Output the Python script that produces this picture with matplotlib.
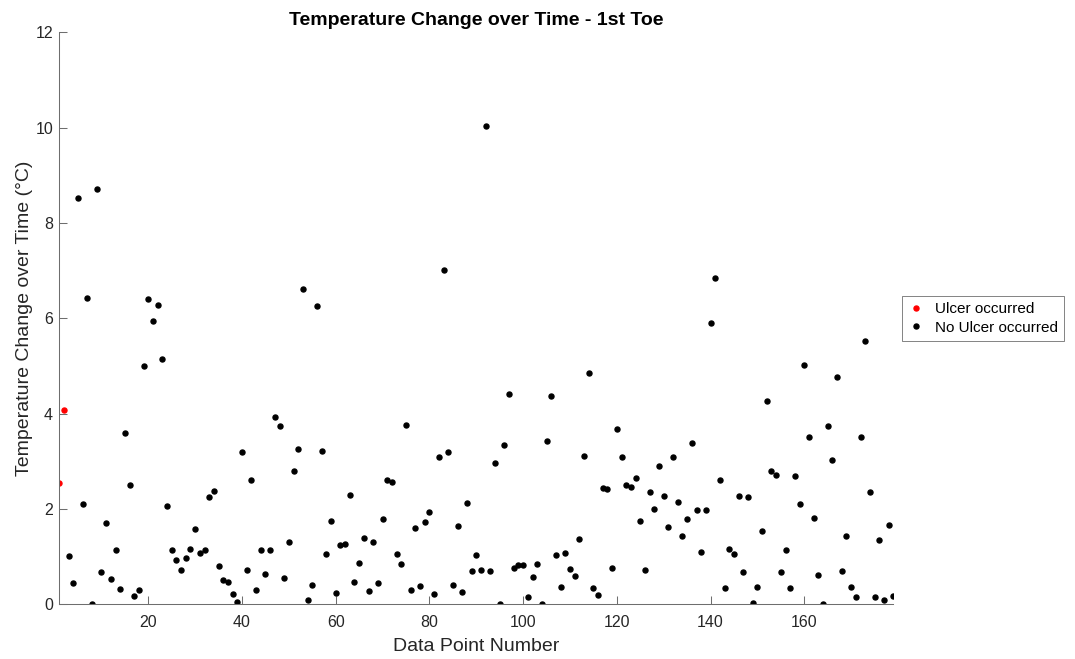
import numpy as np
import matplotlib
matplotlib.use('Agg')
import matplotlib.pyplot as plt

# 潰瘍あり (データ点 1, 2)
ulcer_x = [1, 2]
ulcer_y = [2.55, 4.08]

# 潰瘍なし (データ点 3 から 179)
no_ulcer_y = [
    1.01, 0.44, 8.53, 2.11, 6.42, 0.00, 8.72, 0.67, 1.70, 0.54,
    1.13, 0.33, 3.59, 2.50, 0.18, 0.29, 4.99, 6.41, 5.95, 6.28,
    5.15, 2.07, 1.14, 0.92, 0.73, 0.97, 1.16, 1.57, 1.07, 1.13,
    2.26, 2.37, 0.80, 0.52, 0.47, 0.22, 0.05, 3.19, 0.73, 2.60,
    0.29, 1.13, 0.64, 1.13, 3.93, 3.74, 0.56, 1.30, 2.79, 3.26,
    6.61, 0.10, 0.41, 6.26, 3.21, 1.05, 1.75, 0.24, 1.25, 1.27,
    2.30, 0.47, 0.87, 1.39, 0.28, 1.30, 0.44, 1.79, 2.61, 2.56,
    1.05, 0.85, 3.76, 0.31, 1.60, 0.38, 1.73, 1.93, 0.22, 3.08,
    7.02, 3.20, 0.40, 1.64, 0.25, 2.13, 0.70, 1.03, 0.72, 10.03,
    0.70, 2.97, 0.00, 3.34, 4.42, 0.77, 0.83, 0.83, 0.15, 0.58,
    0.85, 0.00, 3.42, 4.36, 1.03, 0.37, 1.08, 0.75, 0.59, 1.37,
    3.12, 4.85, 0.34, 0.20, 2.44, 2.42, 0.76, 3.68, 3.08, 2.51,
    2.46, 2.65, 1.74, 0.72, 2.35, 1.99, 2.91, 2.28, 1.63, 3.09,
    2.14, 1.44, 1.78, 3.39, 1.97, 1.10, 1.98, 5.90, 6.85, 2.61,
    0.34, 1.16, 1.05, 2.27, 0.68, 2.25, 0.03, 0.36, 1.53, 4.26,
    2.80, 2.71, 0.67, 1.13, 0.34, 2.70, 2.11, 5.02, 3.51, 1.81,
    0.61, 0.01, 3.75, 3.03, 4.76, 0.70, 1.44, 0.37, 0.16, 3.50,
    5.53, 2.35, 0.15, 1.35, 0.09, 1.67, 0.17,
]
no_ulcer_x = np.arange(3, 3 + len(no_ulcer_y))

x_ticks = [20, 40, 60, 80, 100, 120, 140, 160]
y_ticks = [0, 2, 4, 6, 8, 10, 12]


def main():
    plt.rcParams['font.family'] = ['Liberation Sans', 'DejaVu Sans']
    axcol = '#262626'
    linecol = '#6e6e6e'

    fig = plt.figure(figsize=(10.75, 6.59), dpi=100)
    ax = fig.add_axes([59.3 / 1075, (659 - 604.3) / 659,
                       834 / 1075, 572 / 659])

    ax.plot(ulcer_x, ulcer_y, 'o', color='red', markersize=3.6,
            label='Ulcer occurred')
    ax.plot(no_ulcer_x, no_ulcer_y, 'o', color='black', markersize=3.6,
            label='No Ulcer occurred')

    ax.set_xlim(1, 179)
    ax.set_ylim(0, 12)
    ax.set_xticks(x_ticks)
    ax.set_yticks(y_ticks)

    # MATLAB風の軸 (box off, 内向きの目盛り)
    for s in ['top', 'right']:
        ax.spines[s].set_visible(False)
    for s in ['left', 'bottom']:
        ax.spines[s].set_color(linecol)
        ax.spines[s].set_linewidth(0.75)
    ax.tick_params(direction='in', length=6, width=0.75, color=linecol,
                   labelcolor=axcol, labelsize=11.5)
    ax.tick_params(axis='x', pad=7.5)
    ax.tick_params(axis='y', pad=4.5)

    ax.set_title('Temperature Change over Time - 1st Toe', fontsize=14,
                 fontweight='bold', color='black', pad=5.5)
    ax.set_xlabel('Data Point Number', fontsize=14, color=axcol, labelpad=6)
    ax.set_ylabel('Temperature Change over Time (°C)', fontsize=14,
                  color=axcol, labelpad=2)

    leg = ax.legend(loc='center left', bbox_to_anchor=(1.0, 0.5),
                    borderaxespad=0.6, fontsize=11, frameon=True,
                    fancybox=False, handlelength=1.0, handletextpad=0.7,
                    labelspacing=0.3, borderpad=0.4)
    leg.get_frame().set_edgecolor('#262626')
    leg.get_frame().set_linewidth(0.5)

    plt.savefig('out.png', dpi=100)


if __name__ == '__main__':
    main()
